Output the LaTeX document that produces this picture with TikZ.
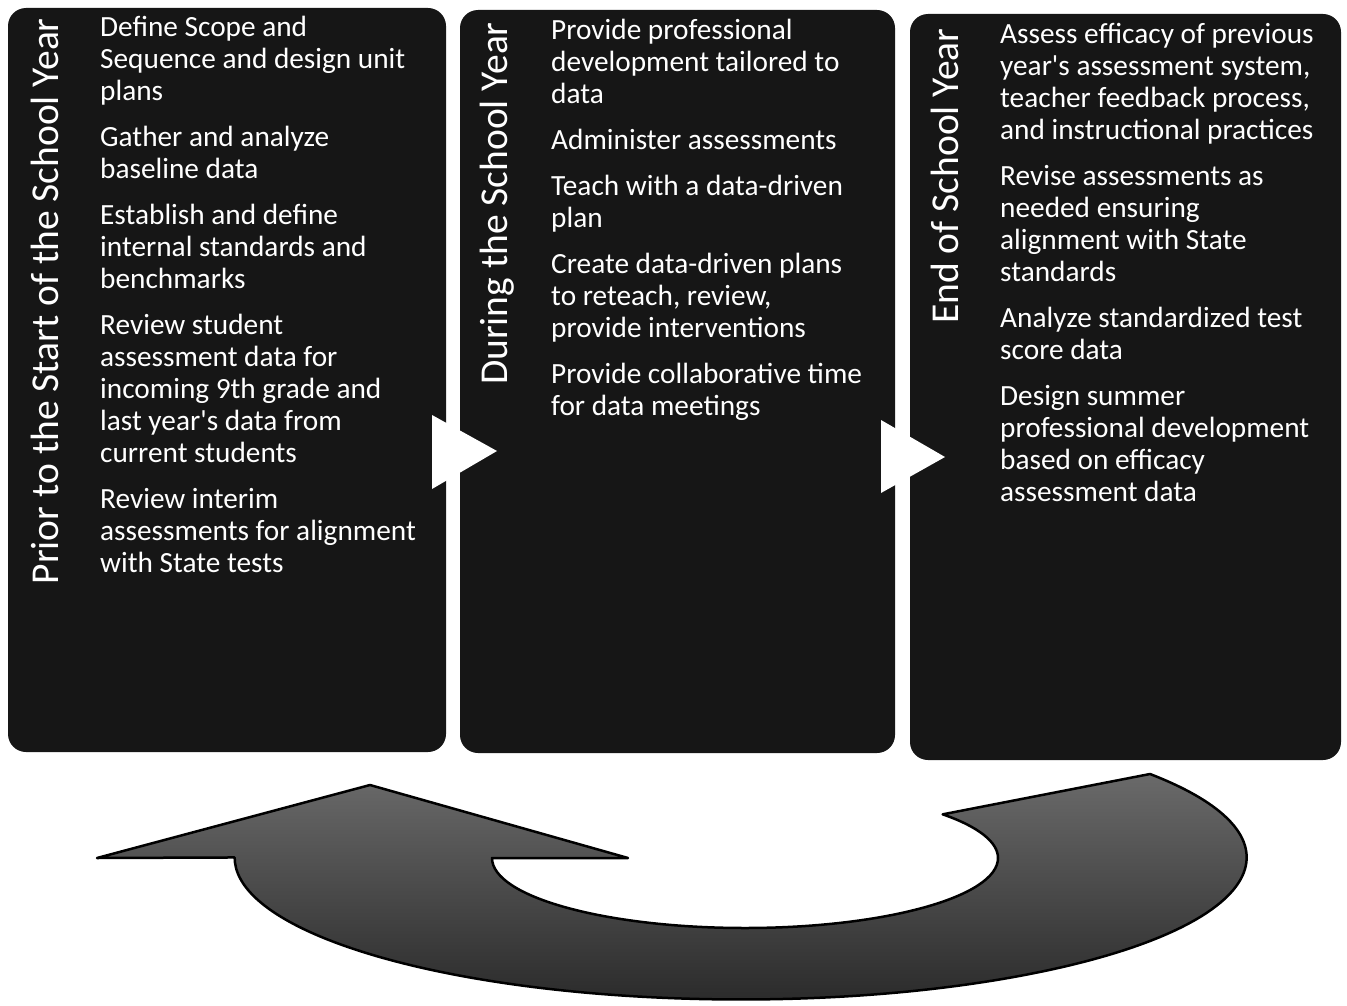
\documentclass[tikz,border=0pt]{standalone}
\usepackage{fontspec}
\setmainfont{Carlito}
\usetikzlibrary{positioning,calc}
\definecolor{panel}{HTML}{161616}
\definecolor{arrowtop}{HTML}{6A6A6A}
\definecolor{arrowbot}{HTML}{262626}
\tikzset{
  phase/.style={draw=none, fill=panel, rounded corners=18pt, inner sep=0pt},
  phasetitle/.style={rotate=90, anchor=east, text=white, font=\fontsize{39.5}{44}\selectfont, inner sep=0pt},
  steps/.style={anchor=north west, align=left, text=white, font=\fontsize{29.3}{32}\selectfont, inner sep=0pt},
  pointer/.style={fill=white, draw=none},
  cyclearrow/.style={draw=black, line width=2.5pt, top color=arrowtop, bottom color=arrowbot, line join=round},
}

\begin{document}
\begin{tikzpicture}[x=1pt, y=-1pt]
\useasboundingbox (0,0) rectangle (1347,1006);

% ---------------- phases ----------------
\node[phase, minimum width=438pt, minimum height=744pt] (prior) at (227,380) {};
\node[phase, minimum width=435pt, minimum height=743pt] (during) at (677.5,381.5) {};
\node[phase, minimum width=431pt, minimum height=746pt] (finish) at (1125.5,387) {};

% ---------------- titles ----------------
\node[phasetitle] (priortitle) at (45,18) {Prior to the Start of the School Year};
\node[phasetitle] (duringtitle) at (497,22) {During the School Year};
\node[phasetitle] (finishtitle) at (945,28) {End of School Year};

% ---------------- steps ----------------
\node[steps] (priorsteps) at (100,16) {Define Scope and\\Sequence and design unit\\plans\\[14pt]
  Gather and analyze\\baseline data\\[14pt]
  Establish and define\\internal standards and\\benchmarks\\[14pt]
  Review student\\assessment data for\\incoming 9th grade and\\last year\textquotesingle s data from\\current students\\[14pt]
  Review interim\\assessments for alignment\\with State tests};
\node[steps] (duringsteps) at (551,19) {Provide professional\\development tailored to\\data\\[14pt]
  Administer assessments\\[14pt]
  Teach with a data-driven\\plan\\[14pt]
  Create data-driven plans\\to reteach, review,\\provide interventions\\[14pt]
  Provide collaborative time\\for data meetings};
\node[steps] (finishsteps) at (1000,23) {Assess efficacy of previous\\year\textquotesingle s assessment system,\\teacher feedback process,\\and instructional practices\\[14pt]
  Revise assessments as\\needed ensuring\\alignment with State\\standards\\[14pt]
  Analyze standardized test\\score data\\[14pt]
  Design summer\\professional development\\based on efficacy\\assessment data};

% ---------------- pointers ----------------
\fill[pointer] (432,415) -- (497,451) -- (432,489) -- cycle;
\fill[pointer] (881,420) -- (945,457) -- (881,493) -- cycle;

% ---------------- cycle arrow ----------------
\draw[cyclearrow] (97,858) -- (370,785) -- (628,858) -- (492,858)
  arc[start angle=180, end angle=-38.6, x radius=253, y radius=70]
  -- (1150,774)
  arc[start angle=-36, end angle=180, x radius=506, y radius=142]
  -- cycle;

\end{tikzpicture}
\end{document}
